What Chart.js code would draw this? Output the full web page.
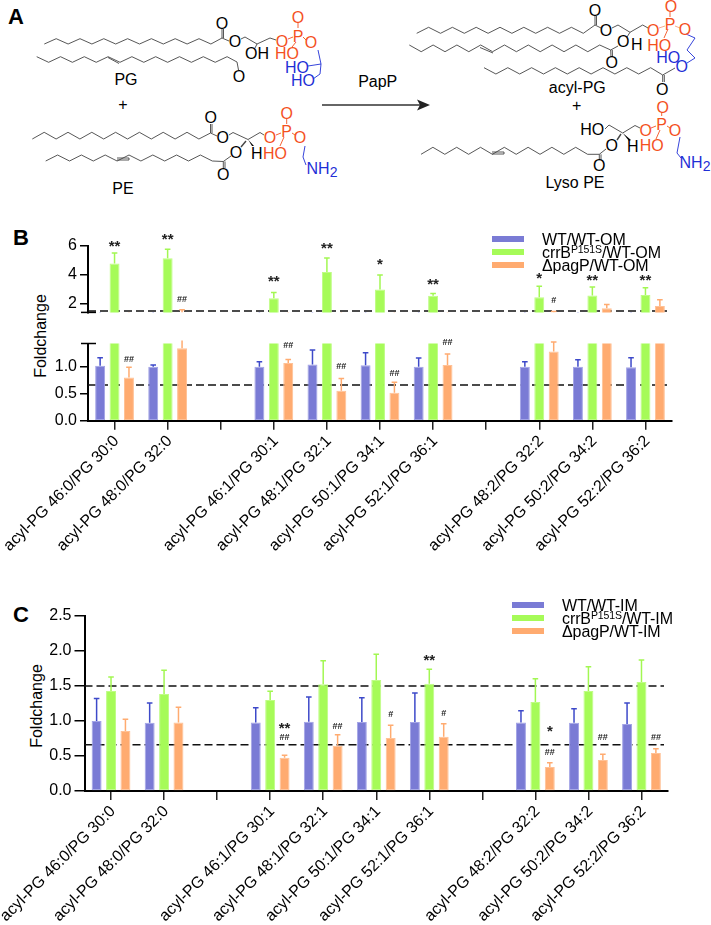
<!DOCTYPE html>
<html>
<head>
<meta charset="utf-8">
<script src="https://cdn.jsdelivr.net/npm/chart.js@4"></script>
<style>
  body { margin: 0; background: #fff; font-family: "Liberation Sans", Arial, sans-serif; color: #000; }
  #page { position: relative; width: 711px; height: 925px; overflow: hidden; }
  #page canvas, #page svg { position: absolute; left: 0; }
  .letter { position: absolute; font-weight: bold; font-size: 22px; line-height: 22px; }
  .ytitle { position: absolute; font-size: 16px; line-height: 16px; transform: translate(-50%, -50%) rotate(-90deg); white-space: nowrap; }
  .swatch { position: absolute; width: 32px; height: 6px; }
  .legtext { position: absolute; font-size: 16px; line-height: 16px; white-space: nowrap; letter-spacing: -0.1px; }
  .legtext sup { font-size: 10.5px; line-height: 0; vertical-align: 5px; }
</style>
</head>
<body>
<div id="page">
  <svg id="schemeA" width="711" height="220" style="top:0"></svg>
  <div class="letter" style="left:8px;top:6px">A</div>
  <div class="letter" style="left:13px;top:227px">B</div>
  <div class="letter" style="left:13px;top:604px">C</div>
  <div class="ytitle" style="left:41px;top:336px">Foldchange</div>
  <div class="ytitle" style="left:37px;top:706px">Foldchange</div>
  <canvas id="chartBTop" width="711" height="100" style="top:225px"></canvas>
  <canvas id="chartBBottom" width="711" height="235" style="top:325px"></canvas>
  <canvas id="chartC" width="711" height="325" style="top:600px"></canvas>
  <div id="legendB"></div>
  <div id="legendC"></div>
</div>
<script>
// categories, blank ones are the gaps between the groups
const categories = [
  "acyl-PG 46:0/PG 30:0", "acyl-PG 48:0/PG 32:0", "",
  "acyl-PG 46:1/PG 30:1", "acyl-PG 48:1/PG 32:1", "acyl-PG 50:1/PG 34:1", "acyl-PG 52:1/PG 36:1", "",
  "acyl-PG 48:2/PG 32:2", "acyl-PG 50:2/PG 34:2", "acyl-PG 52:2/PG 36:2",
];

// Panel B, outer membrane
const omWt = [1.02, 1.0, null, 1.0, 1.04, 1.025, 1.0, null, 1.0, 1.0, 0.99];
const omWtErr = [1.167, 1.03, null, 1.09, 1.31, 1.26, 1.16, null, 1.09, 1.13, 1.167];
const omCrrb = [4.78, 5.14, null, 2.38, 4.18, 2.98, 2.54, null, 2.44, 2.56, 2.6];
const omCrrbErr = [5.5, 5.76, null, 2.78, 5.16, 3.98, 2.7, null, 3.2, 3.16, 3.1];
const omPagp = [0.8, 1.34, null, 1.07, 0.555, 0.52, 1.03, null, 1.28, 1.68, 1.84];
const omPagpErr = [0.99, 1.58, null, 1.135, 0.78, 0.71, 1.235, null, 1.46, 1.94, 2.28];

// Panel C, inner membrane
const imWt = [1.0, 0.976, null, 0.98, 0.99, 0.985, 0.985, null, 0.98, 0.976, 0.957];
const imWtErr = [1.32, 1.257, null, 1.19, 1.343, 1.333, 1.4, null, 1.148, 1.176, 1.257];
const imCrrb = [1.43, 1.386, null, 1.3, 1.524, 1.586, 1.533, null, 1.27, 1.43, 1.557];
const imCrrbErr = [1.63, 1.724, null, 1.424, 1.862, 1.952, 1.738, null, 1.605, 1.776, 1.871];
const imPagp = [0.857, 0.98, null, 0.476, 0.648, 0.757, 0.776, null, 0.343, 0.443, 0.543];
const imPagpErr = [1.024, 1.195, null, 0.51, 0.805, 0.938, 0.962, null, 0.405, 0.524, 0.605];

// significance marks: series, category, text, height on the value axis
const marksBTop = [
  [1, 0, "**", 6.1], [1, 1, "**", 6.62], [2, 1, "##", 2.32], [1, 3, "**", 3.7], [1, 4, "**", 6.0],
  [1, 5, "*", 4.88], [1, 6, "**", 3.48], [1, 8, "*", 3.94], [2, 8, "#", 2.2], [1, 9, "**", 3.78], [1, 10, "**", 3.78],
];
const marksBBottom = [
  [2, 0, "##", 1.136], [2, 3, "##", 1.395], [2, 4, "##", 1.01], [2, 5, "##", 0.87], [2, 6, "##", 1.45],
];
const marksC = [
  [2, 3, "**", 0.929], [2, 3, "##", 0.771], [2, 4, "##", 0.924], [2, 5, "#", 1.086], [2, 6, "#", 1.1], [1, 6, "**", 1.9],
  [2, 8, "*", 0.881], [2, 8, "##", 0.548], [2, 9, "##", 0.771], [2, 10, "##", 0.771],
];

const namesOm = ["WT/WT-OM", "crrB<sup>P151S</sup>/WT-OM", "ΔpagP/WT-OM"];
const namesIm = ["WT/WT-IM", "crrB<sup>P151S</sup>/WT-IM", "ΔpagP/WT-IM"];
const barColors = ["#7a7bd5", "#a6fb58", "#ffab70"];
const barEdges = ["#a3a4e6", "#bffc85", "#ffc196"];
const errColors = ["#3d49c9", "#a2f752", "#ffab70"];

Chart.defaults.font.family = '"Liberation Sans", Arial, sans-serif';
Chart.defaults.color = "#000";
Chart.defaults.animation = false;

// dashed guide lines go behind the bars
const refLines = {
  id: "refLines",
  beforeDatasetsDraw(chart, args, opts) {
    const ctx = chart.ctx, y = chart.scales.y;
    ctx.save();
    ctx.strokeStyle = "#111";
    ctx.lineWidth = 1.5;
    ctx.setLineDash([8, 4]);
    opts.values.forEach(function (v) {
      ctx.beginPath();
      ctx.moveTo(chart.chartArea.left, y.getPixelForValue(v));
      ctx.lineTo(opts.end, y.getPixelForValue(v));
      ctx.stroke();
    });
    ctx.restore();
  },
};

const errorBars = {
  id: "errorBars",
  afterDatasetsDraw(chart, args, opts) {
    const ctx = chart.ctx, y = chart.scales.y, area = chart.chartArea;
    ctx.save();
    ctx.beginPath();
    ctx.rect(area.left, area.top - 3, area.width + 3, area.height + 3);
    ctx.clip();
    opts.tops.forEach(function (tops, s) {
      const bars = chart.getDatasetMeta(s).data;
      ctx.strokeStyle = errColors[s];
      ctx.lineWidth = 1.5;
      tops.forEach(function (top, i) {
        if (top === null) return;
        const x = bars[i].x, y0 = y.getPixelForValue(chart.data.datasets[s].data[i]), y1 = y.getPixelForValue(top);
        ctx.beginPath();
        ctx.moveTo(x, Math.min(y0, area.bottom));
        ctx.lineTo(x, y1);
        ctx.moveTo(x - 2.8, y1);
        ctx.lineTo(x + 2.8, y1);
        ctx.stroke();
      });
    });
    ctx.restore();
  },
};

const sigMarks = {
  id: "sigMarks",
  afterDraw(chart, args, opts) {
    const ctx = chart.ctx, y = chart.scales.y;
    ctx.save();
    ctx.textAlign = "center";
    ctx.textBaseline = "middle";
    ctx.fillStyle = "#222";
    opts.marks.forEach(function (m) {
      const x = chart.getDatasetMeta(m[0]).data[m[1]].x;
      const isStar = m[2].charAt(0) === "*";
      ctx.font = isStar ? 'bold 15px "Liberation Sans"' : 'bold 9px "Liberation Sans"';
      ctx.fillText(m[2], x, y.getPixelForValue(m[3]) + (isStar ? 3 : 0));
    });
    ctx.restore();
  },
};

// the short horizontal ends of the broken y axis
const axisBreak = {
  id: "axisBreak",
  afterDraw(chart, args, opts) {
    if (!opts.at) return;
    const ctx = chart.ctx, left = chart.chartArea.left, y = chart.scales.y.getPixelForValue(opts.at);
    ctx.save();
    ctx.strokeStyle = "#000";
    ctx.lineWidth = 1.5;
    ctx.beginPath();
    ctx.moveTo(left - 7, y);
    ctx.lineTo(left + 8, y);
    ctx.stroke();
    ctx.restore();
  },
};

function makeChart(id, series, tops, cfg) {
  return new Chart(document.getElementById(id), {
    type: "bar",
    data: {
      labels: categories,
      datasets: series.map(function (values, s) {
        return {
          data: values,
          backgroundColor: barColors[s],
          borderColor: barEdges[s],
          borderWidth: 1,
          borderSkipped: false,
          categoryPercentage: 0.815,
          barPercentage: 0.69,
        };
      }),
    },
    plugins: [refLines, errorBars, sigMarks, axisBreak],
    options: {
      responsive: false,
      layout: { autoPadding: false, padding: { top: cfg.top, bottom: cfg.bottom || 0, left: 0, right: 711 - cfg.right } },
      plugins: {
        legend: { display: false },
        tooltip: { enabled: false },
        refLines: { values: cfg.refs, end: cfg.refEnd },
        errorBars: { tops: tops },
        sigMarks: { marks: cfg.marks },
        axisBreak: { at: cfg.breakAt },
      },
      scales: {
        x: {
          display: cfg.showX,
          afterFit(scale) {
            scale.height = cfg.xHeight;
            // rotated labels would otherwise push the plot area to the right
            scale.paddingLeft = 0;
            scale.paddingRight = 0;
          },
          border: { color: "#000", width: 2 },
          grid: { offset: false, drawOnChartArea: false, color: "#222", lineWidth: 1.5, tickLength: 9 },
          ticks: { autoSkip: false, minRotation: 45, maxRotation: 45, padding: 2, labelOffset: 2, font: { size: 16 } },
        },
        y: {
          min: cfg.min,
          max: cfg.max,
          afterFit(scale) { scale.width = cfg.left; },
          afterBuildTicks(scale) { scale.ticks = cfg.ticks.map(function (v) { return { value: v }; }); },
          border: { color: "#000", width: 2 },
          grid: { drawOnChartArea: false, color: "#000", lineWidth: 1.5, tickLength: cfg.tick },
          ticks: { padding: 3, font: { size: 16 }, callback: cfg.format },
        },
      },
    },
  });
}

const oneDecimal = function (v) { return v.toFixed(1); };

makeChart("chartBTop", [omWt, omCrrb, omPagp], [omWtErr, omCrrbErr, omPagpErr], {
  top: 20.7, bottom: 2.7, left: 88, right: 672, min: 1.4, max: 6, ticks: [2, 4, 6], tick: 8,
  format: function (v) { return String(v); }, showX: false, xHeight: 0,
  refs: [1.5], refEnd: 667, marks: marksBTop, breakAt: 1.4,
});
makeChart("chartBBottom", [omWt, omCrrb, omPagp], [omWtErr, omCrrbErr, omPagpErr], {
  top: 18.5, left: 88, right: 672, min: 0, max: 1.43, ticks: [0, 0.5, 1], tick: 8,
  format: oneDecimal, showX: true, xHeight: 139.3,
  refs: [0.66], refEnd: 667, marks: marksBBottom, breakAt: 1.43,
});
makeChart("chartC", [imWt, imCrrb, imPagp], [imWtErr, imCrrbErr, imPagpErr], {
  top: 16, left: 84.5, right: 668, min: 0, max: 2.5, ticks: [0, 0.5, 1, 1.5, 2, 2.5], tick: 10,
  format: oneDecimal, showX: true, xHeight: 134,
  refs: [1.5, 0.66], refEnd: 664,  marks: marksC,
});

function drawLegend(id, names, swatchX, textX, firstY) {
  document.getElementById(id).innerHTML = names.map(function (name, i) {
    const y = firstY + i * 13.3;
    return '<div class="swatch" style="left:' + swatchX + 'px;top:' + (y - 3) + 'px;background:' + barColors[i] + '"></div>' +
      '<div class="legtext" style="left:' + textX + 'px;top:' + (y - 7) + 'px">' + name + '</div>';
  }).join("");
}
drawLegend("legendB", namesOm, 492, 542, 238.7);
drawLegend("legendC", namesIm, 512, 562, 604.7);

// ---------- Panel A, the reaction scheme ----------
const BLACK = "#000", RED = "#f4511e", BLUE = "#1f2fd6", BOND = "#444";
let svg = "";

function line(points, color, width) {
  svg += '<polyline fill="none" stroke="' + color + '" stroke-width="' + (width || 0.9) + '" points="' + points.join(" ") + '"/>';
}
function label(x, y, text, color, size) {
  svg += '<text x="' + x + '" y="' + y + '" fill="' + (color || BLACK) + '" font-size="' + (size || 16) +
    '" text-anchor="middle" dominant-baseline="central" font-family="Liberation Sans">' + text + '</text>';
}
// fatty acid tail: zigzag from x0 to the carbonyl carbon
function tail(x0, yLow, yHigh, startLow, n, end, dblAt) {
  const pts = [];
  let low = startLow;
  for (let i = 0; i < n; i++) {
    pts.push((x0 + i * 11.9).toFixed(1) + "," + (low ? yLow : yHigh));
    low = !low;
  }
  pts.push(end);
  line(pts, BOND);
  if (dblAt) line(dblAt, BOND, 0.9);
}
function nh2(x, y) {
  svg += '<text x="' + x + '" y="' + y + '" fill="' + BLUE + '" font-size="16" text-anchor="middle" dominant-baseline="central" font-family="Liberation Sans">NH<tspan font-size="14" dy="4">2</tspan></text>';
}

// PG
tail(44.3, 44, 38.7, true, 15, "222,38", null);
tail(36.7, 62.3, 56.7, false, 17, "237,62", ["108,57.5", "119,63.5"]);
line(["222,38", "222,29"], BOND); line(["223.5,38", "223.5,29"], BOND);
line(["222,38", "229,41"], BOND);
line(["241,39", "245,37", "257,44", "270,38", "276,40"], BOND);
line(["257,44", "255,48"], BOND);
line(["237,62", "238.5,70"], BOND);
line(["288,39", "293,37"], RED); line(["303,37", "306,40"], RED); line(["298,28", "298,23"], RED); line(["296,42", "292,47"], RED);
line(["318,50", "321,64", "320,74", "313,79"], BLUE); line(["321,64", "308,66"], BLUE);
label(222, 23, "O"); label(235, 41, "O"); label(257, 53, "OH"); label(239, 76, "O");
label(282, 41, "O", RED); label(298, 36, "P", RED); label(298, 17, "O", RED); label(311, 42, "O", RED); label(287, 53, "HO", RED);
label(297, 67, "HO", BLUE); label(303, 80, "HO", BLUE);
label(126, 79, "PG"); label(123, 104, "+");

// PE
tail(32.3, 139, 132.3, true, 15, "210.5,133", null);
tail(45.7, 161, 155, true, 15, "223.3,161.5", ["117,158", "129,158", "129,160", "117,160"]);
line(["210.5,133", "210.5,124"], BOND); line(["212,133", "212,124"], BOND);
line(["210.5,133", "217,136"], BOND);
line(["229,135", "233,132.5", "248,139.5", "260,132.5", "264,135"], BOND);
line(["223.3,161.5", "231,156"], BOND);
line(["223.3,161.5", "223.3,168"], BOND); line(["225,161.5", "225,168"], BOND);
svg += '<polygon fill="#000" points="248,139.5 252,146 254,146"/>';
line(["246,141", "241,147"], BOND, 1.4);
line(["276,135", "281,133"], RED); line(["292,133", "295,135"], RED); line(["286.7,124", "286.7,119"], RED); line(["284,137", "280,146"], RED);
line(["305,146", "303,157", "306,165"], BLUE);
label(210.7, 117.3, "O"); label(222.7, 137.3, "O"); label(236, 152.7, "O"); label(256.7, 153, "H"); label(223.3, 174, "O");
label(270, 137.3, "O", RED); label(286.7, 131.7, "P", RED); label(286.7, 113.3, "O", RED); label(300, 137.3, "O", RED); label(275, 153, "HO", RED);
nh2(322, 168.3); label(123, 188, "PE");

// arrow
line(["322,105", "424,105"], "#333", 1.6);
svg += '<polygon fill="#222" points="430,105 417,99.5 420,105 417,110.5"/>';
label(377.7, 81, "PapP");

// acyl-PG
tail(416.7, 33.3, 27.3, true, 15, "595,25", null);
tail(409.3, 45, 51.7, true, 17, "610.7,50", ["480,47.5", "493,53"]);
tail(484, 67.7, 74, true, 15, "662.7,75", null);
line(["595,25", "595,16"], BOND); line(["596.5,25", "596.5,16"], BOND);
line(["595,25", "601,28"], BOND);
line(["612,28", "618,25", "630,32.3", "642.7,25", "648,28"], BOND);
line(["630,32.3", "627,37"], BOND);
line(["610.7,50", "618,46"], BOND);
line(["610.7,50", "611,57"], BOND); line(["612.3,50", "612.5,57"], BOND);
line(["662.7,75", "662.7,82"], BOND); line(["664.3,75", "664.3,82"], BOND);
line(["662.7,75", "675,68"], BOND);
line(["659,28", "665,26"], "#f7a27f"); line(["675,26", "680,28"], "#f7a27f"); line(["670,17", "670,12"], RED); line(["668,29", "664,38"], RED);
line(["686,34", "695,38", "687,50", "695,58", "687,63"], BLUE);
label(595, 10, "O"); label(606, 30, "O"); label(623.3, 41.7, "O"); label(636.7, 44.3, "H"); label(611.7, 62.3, "O"); label(662.3, 89, "O");
label(653.3, 30, "O", RED); label(670, 24, "P", RED); label(671, 6.7, "O", RED); label(685, 29.3, "O", RED); label(659.3, 45, "HO", RED);
label(668.3, 57.3, "HO", BLUE); label(681.7, 66, "O", BLUE);
label(577.3, 87.7, "acyl-PG"); label(576.7, 105, "+");

// Lyso PE
tail(421, 154.3, 147.3, true, 15, "599.3,154.3", ["492,152", "504,152", "504,154", "492,154"]);
line(["599.3,154.3", "606,149"], BOND);
line(["599.3,154.3", "599.3,160"], BOND); line(["601,154.3", "601,160"], BOND);
line(["605,129", "609,125", "622.7,133", "635,125.5", "640,128"], BOND);
svg += '<polygon fill="#000" points="622.7,133 629,141 631,140"/>';
line(["621,134", "617,140"], BOND, 1.4);
line(["651,128", "656,126"], RED); line(["667,126", "670,128"], RED); line(["661.7,116", "661.7,112"], RED); line(["660,130", "656,139"], RED);
line(["680,137", "677,153", "681,158"], BLUE);
label(592.3, 129.3, "HO"); label(611.7, 145.7, "O"); label(632.7, 146.7, "H"); label(599.3, 165, "O");
label(645.7, 130, "O", RED); label(661.7, 124.3, "P", RED); label(662.7, 107.7, "O", RED); label(675, 130.7, "O", RED); label(651.7, 145.7, "HO", RED);
nh2(695, 162); label(575, 182.7, "Lyso PE");

document.getElementById("schemeA").innerHTML = svg;
</script>
</body>
</html>
